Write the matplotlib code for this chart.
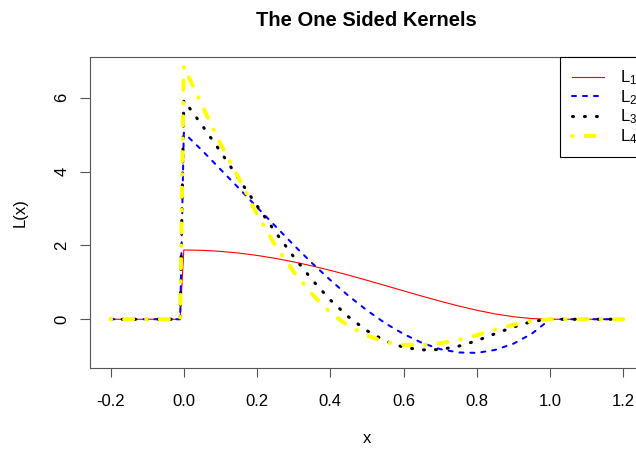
import matplotlib
matplotlib.use("Agg")
import matplotlib.pyplot as plt

plt.rcParams['font.family'] = ['Liberation Sans', 'DejaVu Sans']
plt.rcParams['mathtext.fontset'] = 'custom'
plt.rcParams['mathtext.rm'] = 'Liberation Sans'
plt.rcParams['mathtext.default'] = 'regular'
plt.rcParams['lines.scale_dashes'] = False

# grid of x values
x_vals = [-0.20, -0.01, 0.00, 0.05, 0.10, 0.15, 0.20, 0.25, 0.30, 0.35, 0.40, 0.45,
          0.50, 0.55, 0.60, 0.65, 0.70, 0.75, 0.80, 0.85, 0.90, 0.95, 1.00, 1.20]

L1 = [0, 0, 1.875, 1.866, 1.838, 1.792, 1.728, 1.648, 1.553, 1.444, 1.323, 1.193,
      1.055, 0.912, 0.768, 0.625, 0.488, 0.359, 0.243, 0.144, 0.068, 0.018, 0, 0]
L2 = [0, 0, 5.05, 4.57, 4.06, 3.55, 3.03, 2.52, 2.01, 1.52, 1.06, 0.63,
      0.24, -0.11, -0.40, -0.64, -0.81, -0.90, -0.91, -0.83, -0.66, -0.39, 0, 0]
L3 = [0, 0, 5.93, 5.25, 4.54, 3.80, 3.07, 2.36, 1.69, 1.07, 0.52, 0.06,
      -0.31, -0.59, -0.76, -0.83, -0.82, -0.73, -0.58, -0.39, -0.21, -0.06, 0, 0]
L4 = [0, 0, 6.85, 5.78, 4.75, 3.82, 2.84, 1.99, 1.28, 0.68, 0.18, -0.19,
      -0.44, -0.62, -0.69, -0.70, -0.65, -0.56, -0.43, -0.28, -0.15, -0.05, 0, 0]

labels = [r'$L_1$', r'$L_2$', r'$L_3$', r'$L_4$']
xticks = [-0.2, 0.0, 0.2, 0.4, 0.6, 0.8, 1.0, 1.2]
yticks = [0, 2, 4, 6]

fig = plt.figure(figsize=(6.36, 4.51), dpi=100)
ax = fig.add_axes([90 / 636, 83 / 451, 554 / 636, 311 / 451])

ax.plot(x_vals, L1, color='red', lw=0.8, label=labels[0])
ax.plot(x_vals, L2, color='blue', lw=1.45, dashes=(2.9, 5.0),
        dash_capstyle='round', label=labels[1])
ax.plot(x_vals, L3, color='black', lw=2.2, dashes=(0.7, 7.9),
        dash_capstyle='round', label=labels[2])
ax.plot(x_vals, L4, color='yellow', lw=2.9, dashes=(0.4, 9.4, 6.5, 9.4),
        dash_capstyle='round', label=labels[3])

ax.set_xlim(-0.256, 1.256)
ax.set_ylim(-1.32, 7.10)
ax.set_xticks(xticks)
ax.set_xticklabels(['%.1f' % t for t in xticks])
ax.set_yticks(yticks)
ax.set_yticklabels([str(t) for t in yticks], rotation=90, va='center')
ax.tick_params(axis='x', direction='out', length=6.5, width=0.8,
               color='#555555', labelsize=12, pad=12)
ax.tick_params(axis='y', direction='out', length=7.5, width=0.8,
               color='#555555', labelsize=12, pad=7.5)
for s in ax.spines.values():
    s.set_color('#555555')
    s.set_linewidth(0.8)

ax.set_xlabel('x', fontsize=12)
ax.xaxis.set_label_coords(0.5, -0.202)
ax.set_ylabel('L(x)', fontsize=12)
ax.yaxis.set_label_coords(-0.112, 0.5)

fig.text(366 / 636, 1 - 20 / 451, 'The One Sided Kernels', ha='center', va='center',
         fontsize=14.5, fontweight='bold')

leg = ax.legend(loc='upper right', bbox_to_anchor=(1 + 4.5 / 554, 1),
                borderaxespad=0, fancybox=False, framealpha=1,
                edgecolor='black', fontsize=12, handlelength=1.92, handletextpad=0.95,
                labelspacing=0.06, borderpad=0.68)
leg.get_frame().set_linewidth(0.8)

fig.savefig('out.png', dpi=100)
